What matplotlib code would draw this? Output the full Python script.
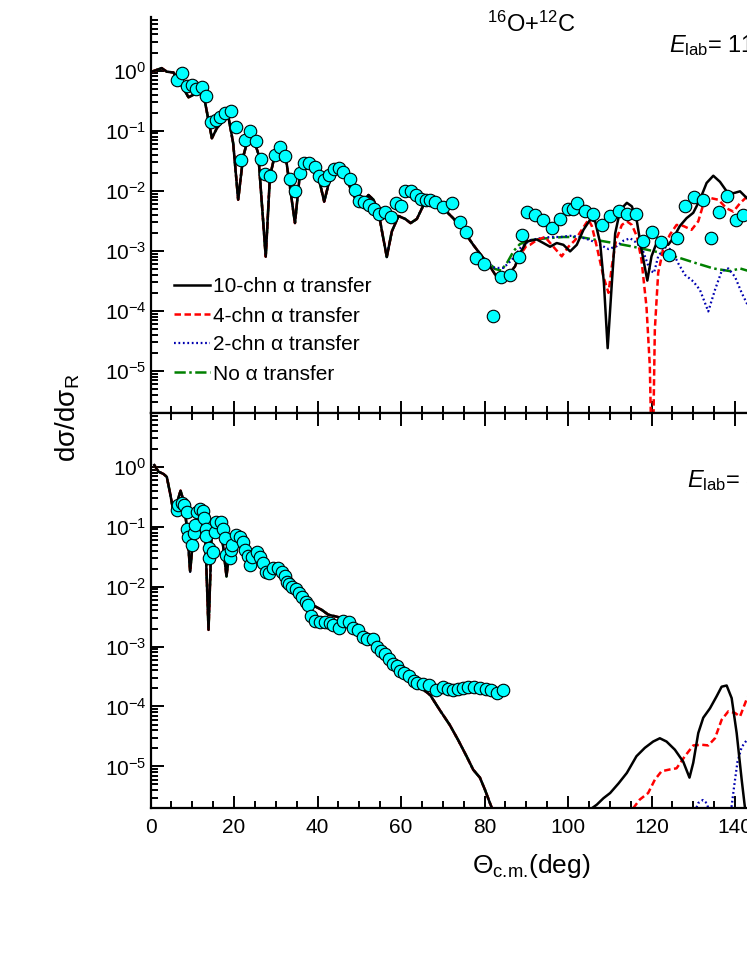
import numpy as np
import matplotlib
matplotlib.use("Agg")
import matplotlib.pyplot as plt
from matplotlib.ticker import LogLocator, MultipleLocator, NullFormatter

plt.rcParams['font.family'] = ['Liberation Sans', 'DejaVu Sans']
plt.rcParams['mathtext.fontset'] = 'custom'
plt.rcParams['mathtext.rm'] = 'Liberation Sans'
plt.rcParams['mathtext.it'] = 'Liberation Sans:italic'
plt.rcParams['axes.unicode_minus'] = False

# ---------------- upper panel: data ----------------
top_exp_theta = [6.3, 7.6, 8.8, 9.9, 10.9, 12.3, 13.3, 14.4, 15.6, 16.7, 17.8, 19.2, 20.4, 21.6,
                 22.6, 23.9, 25.3, 26.4, 27.4, 28.7, 29.8, 31.1, 32.3, 33.4, 34.7, 35.7, 36.8,
                 38.0, 39.4, 40.4, 41.6, 42.8, 43.9, 45.1, 46.2, 47.8, 49.0, 49.9, 51.2, 52.4,
                 53.6, 54.8, 56.2, 57.5, 58.7, 59.9, 61.0, 62.3, 63.6, 64.7, 65.9, 66.9, 68.1,
                 70.1, 72.2, 74.1, 75.6, 77.9, 79.9, 82.0, 84.0, 86.1, 88.2, 89.0, 90.1, 92.1,
                 94.1, 96.1, 98.1, 100.1, 101.1, 102.1, 104.1, 106.1, 108.1, 110.1, 112.1,
                 114.1, 116.2, 118.0, 120.2, 122.2, 124.2, 126.2, 128.1, 130.2, 132.3, 134.2,
                 136.1, 138.2, 140.2, 142.0]
top_exp_sigma = [0.70, 0.93, 0.56, 0.57, 0.49, 0.54, 0.38, 0.138, 0.150, 0.172, 0.195, 0.216,
                 0.115, 0.0327, 0.0703, 0.0977, 0.0676, 0.0344, 0.0191, 0.0179, 0.0389, 0.0545,
                 0.038, 0.0158, 0.0100, 0.0195, 0.0288, 0.0288, 0.0245, 0.0174, 0.0151, 0.0184,
                 0.0234, 0.0237, 0.0209, 0.0155, 0.0104, 0.00687, 0.0066, 0.00582, 0.0050,
                 0.00407, 0.00447, 0.00363, 0.00617, 0.00562, 0.0100, 0.0100, 0.0085, 0.00724,
                 0.00708, 0.00708, 0.00646, 0.00537, 0.00617, 0.00302, 0.00209, 0.00076,
                 0.00060, 8.3e-5, 0.00037, 0.00039, 0.00078, 0.00182, 0.00437, 0.00398,
                 0.00331, 0.0024, 0.00339, 0.0050, 0.0049, 0.00617, 0.00468, 0.00417, 0.00269,
                 0.0038, 0.00468, 0.00407, 0.00407, 0.00148, 0.00209, 0.00138, 0.00085,
                 0.00166, 0.00562, 0.00776, 0.00708, 0.00162, 0.00447, 0.00832, 0.00331,
                 0.00398]

# forward angles: all four calculations lie on top of each other
top_fwd_theta = [0.3, 2.7, 3.9, 5.5, 8.3, 9.1, 10.7, 11.9, 13.1, 14.7, 15.9, 17.4, 18.6, 19.8,
                 21.0, 22.2, 23.4, 24.6, 25.8, 27.6, 28.6, 29.8, 31.4, 32.6, 34.6, 35.8, 37.4,
                 39.0, 40.2, 41.6, 43.0, 44.2, 45.8, 47.0, 49.0, 50.2, 51.4, 52.2, 53.4, 54.6,
                 55.4, 56.6, 57.8, 59.4, 61.0, 62.3, 63.8, 65.3, 67.0, 68.6, 70.1, 72.5, 74.9,
                 77.3, 79.7]
top_fwd_sigma = [0.96, 1.10, 0.96, 0.93, 0.45, 0.36, 0.41, 0.42, 0.29, 0.075, 0.11, 0.15, 0.18,
                 0.062, 0.0071, 0.037, 0.075, 0.075, 0.042, 0.0008, 0.0172, 0.040, 0.045, 0.029,
                 0.0029, 0.0195, 0.029, 0.027, 0.0174, 0.0066, 0.0162, 0.0224, 0.0224, 0.0151,
                 0.0076, 0.0066, 0.0071, 0.0085, 0.0071, 0.0045, 0.0022, 0.00079, 0.0021,
                 0.0038, 0.0034, 0.0029, 0.0034, 0.0056, 0.0071, 0.0063, 0.0051, 0.0035, 0.0022,
                 0.00126, 0.00076]

top_10chn_theta = [81.3, 82.9, 84.5, 86.1, 87.3, 88.5, 90.1, 92.5, 94.1, 95.7, 97.3, 98.9, 100.5,
                   102.1, 103.7, 105.3, 106.5, 107.7, 108.6, 109.5, 110.5, 111.3, 112.5, 114.1,
                   115.3, 116.5, 117.6, 119.0, 120.0, 121.2, 122.8, 124.0, 125.2, 126.8, 128.4,
                   130.0, 131.6, 133.2, 134.8, 136.4, 138.0, 139.6, 141.2, 142.8, 146.0]
top_10chn_sigma = [0.00055, 0.00037, 0.00035, 0.00043, 0.00055, 0.00091, 0.00143, 0.00155,
                   0.00135, 0.00117, 0.00135, 0.00126, 0.00098, 0.00126, 0.00224, 0.0033, 0.0031,
                   0.00135, 0.00029, 2.4e-5, 0.00029, 0.00195, 0.0048, 0.0063, 0.0055, 0.0031,
                   0.00105, 0.00032, 0.00081, 0.00135, 0.00141, 0.00126, 0.00162, 0.0026, 0.0035,
                   0.0043, 0.0071, 0.0135, 0.0178, 0.0141, 0.0098, 0.0091, 0.0098, 0.0076, 0.005]

top_4chn_theta = [81.3, 82.9, 84.5, 86.1, 87.3, 88.5, 90.0, 90.9, 92.5, 94.5, 96.5, 98.5, 100.1,
                  101.7, 103.3, 104.9, 105.7, 106.9, 108.5, 109.7, 110.5, 111.5, 112.9, 114.1,
                  115.3, 116.5, 117.6, 118.8, 119.6, 120.2, 120.8, 121.6, 122.8, 124.4, 126.0,
                  127.6, 129.6, 131.2, 132.4, 134.0, 136.0, 138.0, 139.6, 141.2, 142.8, 146.0]
top_4chn_sigma = [0.00055, 0.00037, 0.00035, 0.00043, 0.00055, 0.00085, 0.0012, 0.00126,
                  0.00151, 0.0017, 0.00117, 0.00081, 0.00117, 0.00151, 0.00224, 0.0033, 0.0026,
                  0.00117, 0.00037, 0.0002, 0.00055, 0.00151, 0.0027, 0.0031, 0.0027, 0.00174,
                  0.00071, 0.000117, 1.2e-5, 1e-7, 4.9e-5, 0.00043, 0.00105, 0.00186, 0.0027,
                  0.0026, 0.00224, 0.0031, 0.0059, 0.0076, 0.0071, 0.0051, 0.0045, 0.0062,
                  0.0079, 0.009]

top_2chn_theta = [80.5, 82.5, 84.5, 86.5, 88.5, 90.9, 93.3, 95.7, 98.1, 100.5, 102.9, 105.3,
                  107.7, 109.7, 111.7, 113.3, 114.9, 116.5, 118.0, 119.6, 120.6, 121.6, 123.2,
                  124.8, 126.4, 128.0, 130.0, 131.6, 133.6, 135.2, 136.8, 138.4, 140.0, 141.6,
                  142.8, 146.0]
top_2chn_sigma = [0.00065, 0.00052, 0.00052, 0.0007, 0.0011, 0.00151, 0.00162, 0.0017, 0.0017,
                  0.00178, 0.0017, 0.00151, 0.00126, 0.00107, 0.0012, 0.00148, 0.00162, 0.00135,
                  0.00098, 0.00048, 0.00043, 0.00081, 0.00115, 0.00105, 0.00062, 0.0004,
                  0.00031, 0.000224, 0.000098, 0.000224, 0.00046, 0.00051, 0.00037, 0.0002,
                  0.000135, 0.00009]

top_no_theta = [80.5, 82.5, 84.0, 85.5, 87.0, 88.5, 90.9, 94.9, 98.9, 102.9, 106.9, 110.9,
                114.9, 118.8, 122.8, 126.8, 130.8, 134.8, 138.8, 141.2, 142.9, 146.0]
top_no_sigma = [0.0007, 0.00050, 0.00047, 0.00065, 0.001, 0.0013, 0.00151, 0.00162, 0.0017,
                0.0017, 0.00151, 0.00135, 0.0012, 0.00105, 0.00091, 0.00076, 0.00062, 0.00051,
                0.00046, 0.00051, 0.00047, 0.00044]

# ---------------- lower panel: data ----------------
bot_exp_theta = [6.3, 6.7, 7.5, 8.1, 8.7, 8.7, 9.1, 10.0, 10.3, 10.7, 11.1, 11.9, 12.5, 12.9,
                 13.3, 13.4, 13.9, 14.0, 14.9, 15.4, 15.8, 16.9, 17.4, 17.8, 18.0, 19.0, 19.4,
                 19.6, 20.4, 21.4, 22.2, 22.6, 23.4, 23.8, 24.2, 25.4, 26.2, 27.0, 27.6, 28.4,
                 29.4, 30.6, 31.4, 32.1, 32.6, 33.2, 33.9, 34.8, 35.6, 36.4, 37.2, 37.8, 38.4,
                 39.4, 40.6, 41.8, 43.0, 43.8, 45.2, 46.0, 47.6, 48.6, 49.8, 50.8, 51.9, 53.4,
                 54.2, 55.1, 56.2, 57.2, 58.2, 59.0, 59.8, 60.7, 61.9, 63.0, 63.9, 65.2, 66.6,
                 68.5, 70.1, 71.3, 72.5, 73.7, 74.9, 76.1, 77.6, 78.9, 80.3, 81.5, 82.9, 84.5]
bot_exp_sigma = [0.19, 0.23, 0.245, 0.23, 0.178, 0.093, 0.068, 0.049, 0.078, 0.107, 0.178, 0.195,
                 0.182, 0.138, 0.093, 0.069, 0.044, 0.0295, 0.038, 0.083, 0.12, 0.12, 0.091,
                 0.065, 0.034, 0.0295, 0.041, 0.049, 0.072, 0.068, 0.056, 0.041, 0.032, 0.023,
                 0.0316, 0.038, 0.0316, 0.0245, 0.0178, 0.0166, 0.0204, 0.0204, 0.0178, 0.0151,
                 0.012, 0.011, 0.0100, 0.0091, 0.0079, 0.0068, 0.0056, 0.0049, 0.0032, 0.0027,
                 0.0026, 0.0026, 0.00245, 0.0023, 0.00204, 0.0027, 0.0026, 0.00204, 0.00186,
                 0.00145, 0.00135, 0.00132, 0.0010, 0.00085, 0.00076, 0.00062, 0.00051, 0.00047,
                 0.00039, 0.00036, 0.00032, 0.00027, 0.00025, 0.00024, 0.00023, 0.000186,
                 0.00021, 0.000195, 0.00019, 0.000195, 0.000204, 0.00021, 0.00021, 0.000204,
                 0.000195, 0.00019, 0.000166, 0.000186]

bot_fwd_theta = [0.9, 1.9, 3.1, 3.9, 4.7, 5.5, 6.3, 7.2, 8.1, 8.9, 9.5, 10.3, 11.5, 12.3, 13.1,
                 13.9, 14.6, 15.4, 16.6, 17.4, 18.2, 19.0, 20.2, 21.4, 22.6, 23.8, 25.0, 26.2,
                 27.8, 29.0, 30.6, 32.2, 33.4, 34.6, 36.2, 37.8, 39.4, 41.0, 42.6, 44.2, 45.8,
                 48.0, 50.0, 52.0, 55.0, 58.0, 61.0, 63.0, 65.4, 67.0, 69.3, 71.7, 73.7, 75.7,
                 77.3, 78.9, 80.1, 81.3, 82.5]
bot_fwd_sigma = [1.07, 0.83, 0.76, 0.68, 0.36, 0.178, 0.245, 0.40, 0.245, 0.068, 0.0178, 0.078,
                 0.23, 0.19, 0.078, 0.0019, 0.060, 0.12, 0.12, 0.047, 0.0148, 0.047, 0.078,
                 0.072, 0.041, 0.032, 0.038, 0.032, 0.0155, 0.0204, 0.0204, 0.0129, 0.0083,
                 0.0087, 0.0065, 0.0049, 0.0047, 0.0041, 0.0034, 0.0032, 0.0030, 0.0024,
                 0.00174, 0.00132, 0.00089, 0.00054, 0.00035, 0.00027, 0.00019, 0.000155,
                 8.7e-5, 4.9e-5, 2.75e-5, 1.48e-5, 8.8e-6, 6.5e-6, 4.1e-6, 2.45e-6, 1.5e-6]

bot_10chn_theta = [104.0, 105.7, 106.9, 108.5, 110.1, 112.1, 114.1, 116.4, 118.4, 120.4, 122.0,
                   123.6, 125.6, 127.6, 129.1, 130.0, 131.2, 132.4, 134.0, 135.6, 136.8, 138.0,
                   139.2, 140.4, 141.6, 142.4, 143.2]
bot_10chn_sigma = [1.5e-6, 2.0e-6, 2.3e-6, 2.95e-6, 3.6e-6, 5.2e-6, 7.8e-6, 1.48e-5, 2.04e-5,
                   2.6e-5, 2.95e-5, 2.6e-5, 1.9e-5, 1.2e-5, 6.5e-6, 1.15e-5, 3.6e-5, 6.5e-5,
                   9.3e-5, 0.000148, 0.000214, 0.000224, 0.000138, 3.6e-5, 6.0e-6, 2.0e-6, 1e-6]

bot_4chn_theta = [114.0, 115.6, 117.2, 119.2, 120.8, 122.4, 124.4, 126.0, 128.0, 130.0, 132.0,
                  133.6, 135.2, 136.8, 138.4, 140.0, 141.2, 142.9, 145.0]
bot_4chn_sigma = [1.5e-6, 2.0e-6, 2.8e-6, 3.6e-6, 6.0e-6, 8.3e-6, 8.9e-6, 9.3e-6, 1.48e-5,
                  2.24e-5, 2.3e-5, 2.24e-5, 2.95e-5, 6.0e-5, 8.3e-5, 7.8e-5, 6.8e-5, 0.000138,
                  0.0002]

bot_2chn_theta = [130.0, 131.2, 132.3, 133.2, 134.2, np.nan, 138.9, 139.8, 140.6, 141.6, 142.9,
                  145.0]
bot_2chn_sigma = [1.5e-6, 2.45e-6, 2.75e-6, 2.45e-6, 1.5e-6, np.nan, 1.5e-6, 4.7e-6, 1.2e-5,
                  2.1e-5, 2.8e-5, 3.2e-5]

legend_labels = ['10-chn \u03b1 transfer', '4-chn \u03b1 transfer',
                 '2-chn \u03b1 transfer', 'No \u03b1 transfer']

# ---------------- figure ----------------
W, H = 747, 967
fig = plt.figure(figsize=(W / 100, H / 100), dpi=100)

x0, x1 = 150.5, 902.0          # 0 ... 180 deg, right part falls outside the page
ax_top = fig.add_axes([x0 / W, (H - 413) / H, (x1 - x0) / W, (413 - 16.7) / H])
ax_bot = fig.add_axes([x0 / W, (H - 808.3) / H, (x1 - x0) / W, (808.3 - 413) / H])

styles = [dict(color='black', lw=1.8, ls='-'),
          dict(color='#FF0000', lw=1.8, ls=(0, (2.6, 1.4))),
          dict(color='#0000B0', lw=1.6, ls=(0, (0.8, 1.2))),
          dict(color='#008000', lw=1.8, ls=(0, (4.5, 1.4, 1.0, 1.4)))]

# upper panel
tails = [(top_10chn_theta, top_10chn_sigma), (top_4chn_theta, top_4chn_sigma),
         (top_2chn_theta, top_2chn_sigma), (top_no_theta, top_no_sigma)]
handles = []
for k in [3, 2, 1, 0]:
    th = [t for t in top_fwd_theta if t < tails[k][0][0]] + list(tails[k][0])
    sg = [s for t, s in zip(top_fwd_theta, top_fwd_sigma) if t < tails[k][0][0]] + list(tails[k][1])
    ln, = ax_top.plot(th, sg, label=legend_labels[k], **styles[k])
    handles.append(ln)
handles = handles[::-1]
ax_top.plot(top_exp_theta, top_exp_sigma, 'o', ms=9, mfc='#00FFFF', mec='black', mew=0.8,
            zorder=5)

# lower panel
bot_tails = [(bot_10chn_theta, bot_10chn_sigma), (bot_4chn_theta, bot_4chn_sigma),
             (bot_2chn_theta, bot_2chn_sigma), ([], [])]
for k in [3, 2, 1, 0]:
    th = list(bot_fwd_theta) + [np.nan] + list(bot_tails[k][0])
    sg = list(bot_fwd_sigma) + [np.nan] + list(bot_tails[k][1])
    ax_bot.plot(th, sg, **styles[k])
ax_bot.plot(bot_exp_theta, bot_exp_sigma, 'o', ms=9, mfc='#00FFFF', mec='black', mew=0.8,
            zorder=5)

for ax in (ax_top, ax_bot):
    ax.set_yscale('log')
    ax.set_xlim(0, 180)
    ax.set_ylim(2e-6, 7.9)
    ax.xaxis.set_major_locator(MultipleLocator(20))
    ax.xaxis.set_minor_locator(MultipleLocator(5))
    ax.yaxis.set_major_locator(LogLocator(base=10, numticks=20))
    ax.yaxis.set_minor_locator(LogLocator(base=10, subs=np.arange(2, 10), numticks=20))
    ax.yaxis.set_minor_formatter(NullFormatter())
    ax.tick_params(which='both', direction='in', width=1.4, labelsize=15)
    ax.tick_params(which='major', length=9)
    ax.tick_params(which='minor', length=5)
    ax.tick_params(axis='y', pad=3)
    ax.tick_params(axis='x', pad=7)
    for sp in ax.spines.values():
        sp.set_linewidth(1.6)

ax_top.spines['top'].set_visible(False)
ax_top.tick_params(labelbottom=False)
ax_bot.tick_params(top=True, which='both')

ax_top.legend(handles=handles, loc='upper left', bbox_to_anchor=(174 / W, (H - 277.5) / H),
              bbox_transform=fig.transFigure, frameon=False, fontsize=15, borderpad=0,
              borderaxespad=0, handlelength=1.75, handletextpad=0.1, labelspacing=0.48)

# texts
fig.text(531 / W, (H - 31.7) / H, '$^{16}$O+$^{12}$C', fontsize=17, ha='center', va='baseline')
fig.text(669 / W, (H - 52) / H, '$E_{\\mathrm{lab}}$= 115.9 MeV', fontsize=17,
         ha='left', va='baseline')
fig.text(686.7 / W, (H - 486.7) / H, '$E_{\\mathrm{lab}}$= 330 MeV', fontsize=17,
         ha='left', va='baseline')
fig.text(531 / W, (H - 866) / H, '\u0398$_{\\text{c.m.}}$(deg)', fontsize=19,
         ha='center', va='center')
fig.text(68 / W, (H - 418) / H, 'd\u03c3/d\u03c3$_{\\mathrm{R}}$', fontsize=20,
         ha='center', va='center', rotation=90)

fig.savefig('out.png', dpi=100)
